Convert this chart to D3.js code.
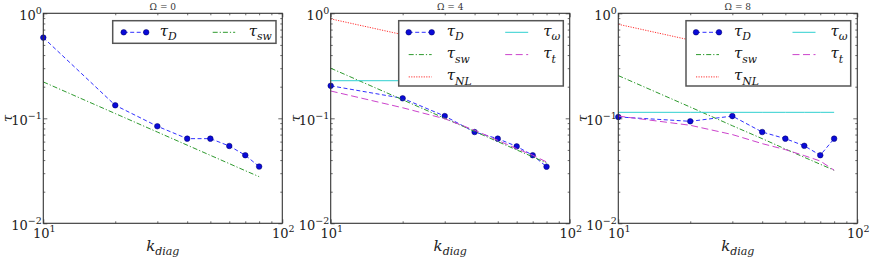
<!DOCTYPE html>
<html>
<head>
<meta charset="utf-8">
<script src="https://cdn.jsdelivr.net/npm/d3@7"></script>
<style>
  body { margin: 0; background: #fff; }
  svg { display: block; }
  svg text { font-family: 'DejaVu Serif', 'Liberation Serif', 'Times New Roman', 'Noto Serif', Tinos, serif; }
</style>
</head>
<body>
<script>
// DATA
const kDiag = [10, 20, 30, 40, 50, 60, 70, 80];
const panelTitles = ['Ω = 0', 'Ω = 4', 'Ω = 8'];
const xTickExp = [1, 2];
const yTickExp = [0, -1, -2];

const tauD_0  = [0.587, 0.133, 0.084, 0.064, 0.064, 0.0545, 0.0445, 0.0347];
const tauSw_0 = [0.222, 0.111, 0.074, 0.0555, 0.0444, 0.037, 0.0317, 0.0278];

const tauD_4  = [0.204, 0.155, 0.105, 0.074, 0.064, 0.054, 0.0445, 0.0346];
const tauSw_4 = [0.30, 0.15, 0.10, 0.075, 0.06, 0.05, 0.043, 0.0375];
const tauNL_4 = [0.885, 0.626, 0.511, 0.443, 0.396, 0.361, 0.334, 0.313];
const tauW_4  = [0.228, 0.228, 0.228, 0.228, 0.228, 0.228, 0.228, 0.228];
const tauT_4  = [0.182, 0.126, 0.099, 0.077, 0.0617, 0.0514, 0.0445, 0.0384];

const tauD_8  = [0.103, 0.0936, 0.105, 0.074, 0.064, 0.0547, 0.0445, 0.064];
const tauSw_8 = [0.255, 0.128, 0.085, 0.064, 0.051, 0.0425, 0.0365, 0.032];
const tauNL_8 = [0.786, 0.556, 0.454, 0.393, 0.352, 0.321, 0.297, 0.278];
const tauW_8  = [0.114, 0.114, 0.114, 0.114, 0.114, 0.114, 0.114, 0.114];
const tauT_8  = [0.105, 0.0858, 0.070, 0.0574, 0.0503, 0.0441, 0.0392, 0.032];

// CONFIGURATION
const width = 872;
const height = 262;
const panelLeft = [43.3, 330.7, 618.3];
const plotTop = 13.3;
const plotW = 239;
const plotH = 210;

const styles = {
  D:  { color: '#3030ff', dash: '4,2.5', sub: 'D', marker: true },
  sw: { color: '#2e9a2e', dash: '5,2,1.2,2', sub: 'sw' },
  NL: { color: '#ff3030', dash: '1.2,1.3', sub: 'NL' },
  w:  { color: '#2fd0d0', dash: null, sub: 'ω' },
  t:  { color: '#cc44cc', dash: '7,3.5', sub: 't' }
};

const panels = [
  { series: [['D', tauD_0], ['sw', tauSw_0]],
    legend: { x: 69.4, w: 163.3, h: 22.6, cols: [11, 100], lineLen: 22.5, gap: 13.5 } },
  { series: [['D', tauD_4], ['sw', tauSw_4], ['NL', tauNL_4], ['w', tauW_4], ['t', tauT_4]],
    legend: { x: 68, w: 164.6, h: 65.3, cols: [10, 106.5], lineLen: 23, gap: 15 } },
  { series: [['D', tauD_8], ['sw', tauSw_8], ['NL', tauNL_8], ['w', tauW_8], ['t', tauT_8]],
    legend: { x: 67.7, w: 164.7, h: 65.3, cols: [10, 106.5], lineLen: 23, gap: 15 } }
];

const xScale = d3.scaleLog().domain([10, 100]).range([0, plotW]);
const yScale = d3.scaleLog().domain([0.01, 1]).range([plotH, 0]);

const xMinor = d3.range(2, 10).map(function(m) { return m * 10; });
const yMinor = [];
[0.01, 0.1].forEach(function(base) {
  d3.range(2, 10).forEach(function(m) { yMinor.push(m * base); });
});

// SVG
const svg = d3.select('body')
  .append('svg')
  .attr('width', width)
  .attr('height', height);

function tauLabel(sel, sub, size) {
  sel.append('tspan')
    .style('font-style', 'italic')
    .style('font-size', size + 'px')
    .text('τ');
  sel.append('tspan')
    .attr('dy', size * 0.3)
    .style('font-style', 'italic')
    .style('font-size', (size * 0.72) + 'px')
    .text(sub);
}

function drawAxis(g, axis) {
  const a = g.append('g').call(axis);
  a.select('.domain').remove();
  a.selectAll('line').attr('stroke', '#444').attr('stroke-width', 0.8);
  return a;
}

panels.forEach(function(panel, i) {
  const g = svg.append('g')
    .attr('transform', `translate(${panelLeft[i]}, ${plotTop})`);

  // TICKS (inward, on all four sides)
  const tickSets = [
    [d3.axisBottom(xScale), [10, 100], 4, `translate(0, ${plotH})`],
    [d3.axisBottom(xScale), xMinor, 2, `translate(0, ${plotH})`],
    [d3.axisTop(xScale), [10, 100], 4, 'translate(0, 0)'],
    [d3.axisTop(xScale), xMinor, 2, 'translate(0, 0)'],
    [d3.axisLeft(yScale), [1, 0.1, 0.01], 4, 'translate(0, 0)'],
    [d3.axisLeft(yScale), yMinor, 2, 'translate(0, 0)'],
    [d3.axisRight(yScale), [1, 0.1, 0.01], 4, `translate(${plotW}, 0)`],
    [d3.axisRight(yScale), yMinor, 2, `translate(${plotW}, 0)`]
  ];
  tickSets.forEach(function(t) {
    const axis = t[0].tickValues(t[1]).tickSizeInner(-t[2]).tickSizeOuter(0).tickFormat('');
    drawAxis(g, axis).attr('transform', t[3]);
  });

  // DATA LINES
  const line = d3.line()
    .x(function(d) { return xScale(d[0]); })
    .y(function(d) { return yScale(d[1]); });

  panel.series.forEach(function(s) {
    const st = styles[s[0]];
    const pts = kDiag.map(function(k, j) { return [k, s[1][j]]; });
    g.append('path')
      .datum(pts)
      .attr('d', line)
      .attr('fill', 'none')
      .attr('stroke', st.color)
      .attr('stroke-width', 1)
      .attr('stroke-dasharray', st.dash);
    if (st.marker) {
      g.selectAll(null)
        .data(pts)
        .enter()
        .append('circle')
        .attr('cx', function(d) { return xScale(d[0]); })
        .attr('cy', function(d) { return yScale(d[1]); })
        .attr('r', 2.8)
        .attr('fill', '#0a0ad8')
        .attr('stroke', '#000060')
        .attr('stroke-width', 0.5);
    }
  });

  // FRAME
  g.append('rect')
    .attr('width', plotW)
    .attr('height', plotH)
    .attr('fill', 'none')
    .attr('stroke', '#333')
    .attr('stroke-width', 1.1);

  // LEGEND
  const lg = panel.legend;
  const legend = g.append('g')
    .attr('transform', `translate(${lg.x}, 7.4)`);
  legend.append('rect')
    .attr('width', lg.w)
    .attr('height', lg.h)
    .attr('fill', '#fff')
    .attr('stroke', '#555')
    .attr('stroke-width', 1.5);

  const nRows = Math.ceil(panel.series.length / 2);
  panel.series.forEach(function(s, j) {
    const st = styles[s[0]];
    const col = Math.floor(j / nRows);
    const row = j % nRows;
    const x0 = lg.cols[col];
    const x1 = x0 + lg.lineLen;
    const y0 = 11.6 + row * 22.3;
    legend.append('line')
      .attr('x1', x0).attr('x2', x1)
      .attr('y1', y0).attr('y2', y0)
      .attr('stroke', st.color)
      .attr('stroke-width', 1)
      .attr('stroke-dasharray', st.dash);
    if (st.marker) {
      [x0, x1].forEach(function(cx) {
        legend.append('circle')
          .attr('cx', cx).attr('cy', y0).attr('r', 2.8)
          .attr('fill', '#0a0ad8')
          .attr('stroke', '#000060')
          .attr('stroke-width', 0.5);
      });
    }
    const label = legend.append('text')
      .attr('x', x1 + lg.gap)
      .attr('y', y0 + 3.5)
      .attr('fill', '#111');
    tauLabel(label, st.sub, 15);
  });

  // TICK LABELS
  xTickExp.forEach(function(e) {
    const t = g.append('text')
      .attr('x', xScale(Math.pow(10, e)) + 1)
      .attr('y', plotH + 15)
      .attr('text-anchor', 'middle')
      .attr('fill', '#222')
      .style('font-size', '13px');
    t.append('tspan').text('10');
    t.append('tspan').attr('dy', -6).style('font-size', '9.5px').text(e);
  });
  yTickExp.forEach(function(e) {
    const t = g.append('text')
      .attr('x', -1.5)
      .attr('y', yScale(Math.pow(10, e)) + 7)
      .attr('text-anchor', 'end')
      .attr('fill', '#222')
      .style('font-size', '13px');
    t.append('tspan').text('10');
    t.append('tspan').attr('dy', -6).style('font-size', '9.5px').text(e < 0 ? '\u2212' + (-e) : e);
  });

  // TITLE
  g.append('text')
    .attr('x', plotW / 2)
    .attr('y', -3)
    .attr('text-anchor', 'middle')
    .attr('fill', '#333')
    .style('font-size', '9px')
    .text(panelTitles[i]);

  // AXIS LABELS
  const xl = g.append('text')
    .attr('x', plotW / 2)
    .attr('y', plotH + 28)
    .attr('text-anchor', 'middle')
    .attr('fill', '#222');
  xl.append('tspan').style('font-style', 'italic').style('font-size', '15px').text('k');
  xl.append('tspan').attr('dy', 4).style('font-style', 'italic').style('font-size', '11px').text('diag');

  g.append('text')
    .attr('transform', `translate(-31, ${plotH / 2}) rotate(-90)`)
    .attr('text-anchor', 'middle')
    .attr('fill', '#222')
    .style('font-style', 'italic')
    .style('font-size', '13px')
    .text('τ');
});
</script>
</body>
</html>
